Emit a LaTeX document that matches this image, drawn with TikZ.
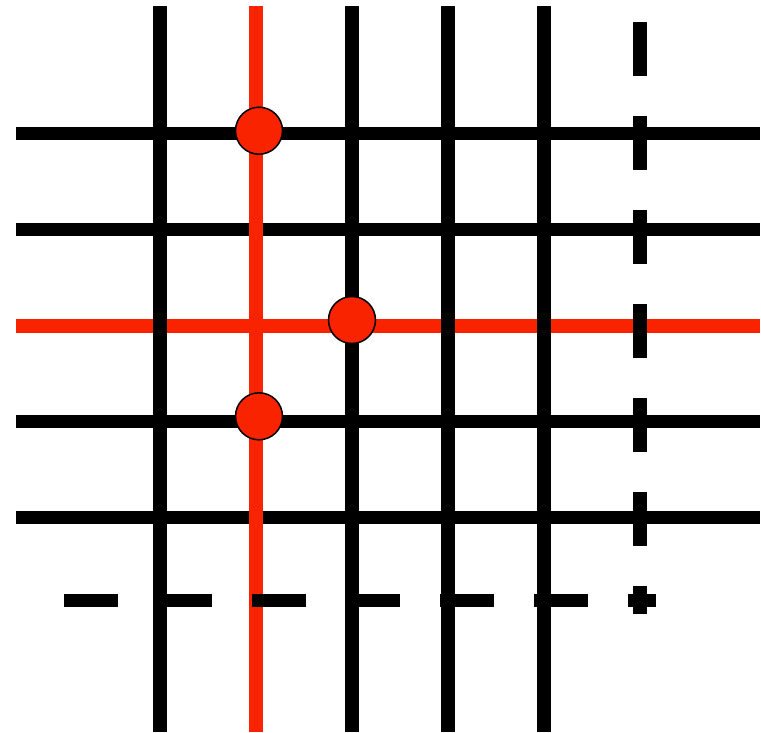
\documentclass[tikz,border=0pt]{standalone}
\definecolor{gridred}{RGB}{250,35,0}
\begin{document}
\begin{tikzpicture}[x=1pt,y=-1pt,
  gl/.style={line width=13.5pt, line cap=butt},
  gdash/.style={gl, dash pattern=on 53.5pt off 40.5pt},
  dot/.style={circle, fill=gridred, draw=black, line width=1.5pt, minimum size=47pt, inner sep=0pt}]
\useasboundingbox (0,0) rectangle (761,732);
% horizontal lines
\foreach \y in {133.7,229.7,421.7,517.7} \draw[gl,black] (16,\y) -- (760,\y);
\draw[gl,gridred] (16,326) -- (760,326);
% red vertical
\draw[gl,gridred] (256,6) -- (256,732);
% black verticals
\foreach \x in {160,352,448,544} \draw[gl,black] (\x,6) -- (\x,732);
% dashed lines
\coordinate (vd1) at (640,22.3);
\coordinate (vd2) at (640,614);
\coordinate (hd1) at (64,600.7);
\coordinate (hd2) at (656,600.7);
\draw[gdash,black] (vd1) -- (vd2);
\draw[gdash,black] (hd1) -- (hd2);
% dots
\node[dot] (c1) at (259,130.7) {};
\node[dot] (c2) at (352,320) {};
\node[dot] (c3) at (259,416.3) {};
\end{tikzpicture}
\end{document}
